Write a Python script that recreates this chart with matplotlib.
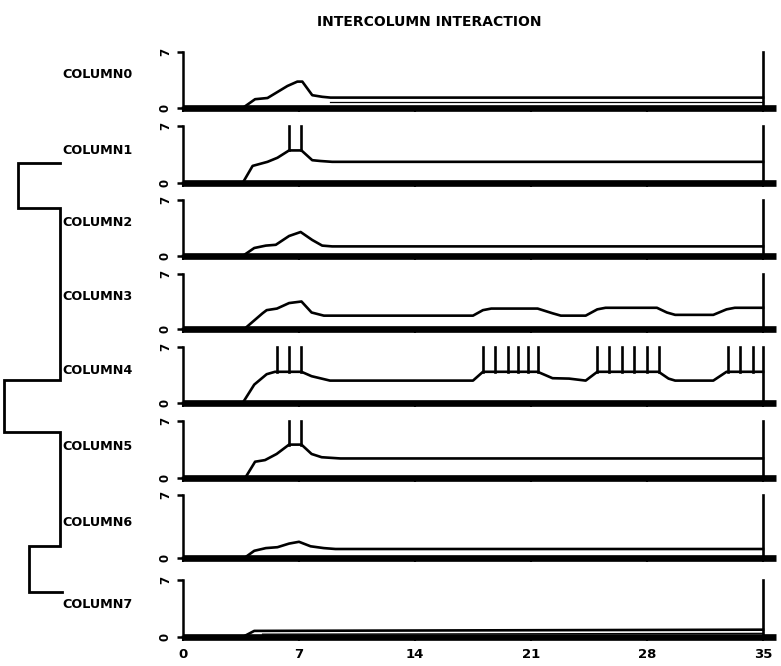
import matplotlib
matplotlib.use("Agg")
import matplotlib.pyplot as plt
import numpy as np

# ---------------- data ----------------
labels = ["COLUMN0", "COLUMN1", "COLUMN2", "COLUMN3",
          "COLUMN4", "COLUMN5", "COLUMN6", "COLUMN7"]
x_ticks = [0, 7, 14, 21, 28, 35]
x_ticklabels = ["0", "7", "14", "21", "28", "35"]
y_ticks = [0, 7]

col0_x = [0, 3.6, 4.35, 5.1, 6.3, 6.9, 7.2, 7.8, 8.4, 8.9, 35]
col0_y = [0, 0, 1.1, 1.25, 2.75, 3.3, 3.3, 1.6, 1.4, 1.3, 1.3]
col1_x = [0, 3.6, 4.2, 5.1, 5.7, 6.4, 7.15, 7.8, 8.3, 9.0, 35]
col1_y = [0, 0, 2.1, 2.6, 3.1, 4.0, 4.0, 2.8, 2.7, 2.6, 2.6]
col2_x = [0, 3.6, 4.3, 5.0, 5.6, 6.4, 7.1, 7.8, 8.4, 9.0, 35]
col2_y = [0, 0, 1.0, 1.3, 1.4, 2.5, 3.0, 2.0, 1.3, 1.2, 1.2]
col3_x = [0, 3.7, 4.8, 5.05, 5.67, 6.4, 7.15, 7.76, 8.5, 17.5, 18.1, 18.6,
          21.4, 22.3, 22.8, 24.3, 25.0, 25.5, 28.6, 29.2, 29.7, 32.0, 32.8,
          33.3, 35]
col3_y = [0, 0, 2.0, 2.4, 2.6, 3.3, 3.5, 2.1, 1.7, 1.7, 2.4, 2.6,
          2.6, 2.0, 1.7, 1.7, 2.5, 2.7, 2.7, 2.1, 1.8, 1.8, 2.5,
          2.7, 2.7]
col4_x = [0, 3.6, 4.3, 5.05, 5.55, 7.15, 7.76, 8.87, 17.5, 18.1, 21.4, 22.3,
          23.3, 24.3, 25.0, 28.7, 29.3, 29.7, 32.0, 32.8, 35]
col4_y = [0, 0, 2.3, 3.6, 3.9, 3.9, 3.35, 2.8, 2.8, 3.9, 3.9, 3.1,
          3.05, 2.8, 3.9, 3.9, 3.05, 2.8, 2.8, 3.9, 3.9]
col5_x = [0, 3.75, 4.35, 4.95, 5.65, 6.4, 7.15, 7.76, 8.37, 9.5, 35]
col5_y = [0, 0, 2.0, 2.2, 2.95, 4.1, 4.1, 2.95, 2.55, 2.4, 2.4]
col6_x = [0, 3.7, 4.3, 5.0, 5.7, 6.4, 7.0, 7.7, 8.5, 9.2, 35]
col6_y = [0, 0, 0.8, 1.1, 1.2, 1.6, 1.8, 1.3, 1.1, 1.0, 1.0]
col7_x = [0, 3.6, 4.3, 35]
col7_y = [0, 0, 0.75, 0.9]

second0_x = [8.9, 35]
second0_y = [0.7, 0.7]
second7_x = [4.8, 35]
second7_y = [0.35, 0.45]

spikes1 = [6.4, 7.15]
spikes4 = [5.67, 6.4, 7.15, 18.1, 18.85, 19.6, 20.2, 20.8, 21.4,
           25.0, 25.7, 26.5, 27.2, 27.97, 28.7, 32.9, 33.6, 34.4]
spikes5 = [6.4, 7.15]
end_x = 35

traces = [(col0_x, col0_y), (col1_x, col1_y), (col2_x, col2_y),
          (col3_x, col3_y), (col4_x, col4_y), (col5_x, col5_y),
          (col6_x, col6_y), (col7_x, col7_y)]
spikes = [[], spikes1, [], [], spikes4, spikes5, [], []]
seconds = {0: (second0_x, second0_y), 7: (second7_x, second7_y)}

# ---------------- layout (pixels) ----------------
W, H = 781, 666
panel_top = [52, 126, 200, 274, 347, 421, 495, 580]
panel_base = [108, 183, 256, 329, 403, 478, 558, 637]
x_left, x_right = 183, 763
label_y = [75, 150, 222, 296, 370, 446, 522, 604]

fig = plt.figure(figsize=(W / 100, H / 100), dpi=100)
fig.patch.set_facecolor("white")
FONT = dict(family="DejaVu Sans", fontweight="bold")

for i in range(8):
    t, b = panel_top[i], panel_base[i]
    ax = fig.add_axes([x_left / W, (H - b) / H, (x_right - x_left) / W, (b - t) / H])
    ax.set_xlim(0, 35)
    ax.set_ylim(0, 7)
    ax.patch.set_alpha(0)
    for s in ("top", "right"):
        ax.spines[s].set_visible(False)
    ax.spines["left"].set_linewidth(1.8)
    ax.spines["bottom"].set_visible(False)
    # thick baseline
    ax.plot([0, 35.8], [0, 0], color="black", lw=4.8, solid_capstyle="butt", clip_on=False)
    xs, ys = traces[i]
    ax.plot(xs, ys, color="black", lw=1.9, clip_on=False, solid_joinstyle="round")
    if i in seconds:
        sx, sy = seconds[i]
        ax.plot(sx, sy, color="black", lw=0.9, clip_on=False)
    for sx in spikes[i]:
        yb = float(np.interp(sx, xs, ys))
        ax.plot([sx, sx], [yb, 7], color="black", lw=1.9, clip_on=False)
    ax.plot([end_x, end_x], [0, 7], color="black", lw=1.9, clip_on=False)

    ax.set_yticks(y_ticks)
    ax.set_yticklabels([str(v) for v in y_ticks], rotation=90, va="center",
                       fontsize=8.5, **FONT)
    ax.tick_params(axis="y", direction="out", length=4, width=1.8, pad=4)
    ax.set_xticks(x_ticks)
    ax.tick_params(axis="x", direction="out", length=3, width=1.5)
    if i == 7:
        ax.set_xticklabels(x_ticklabels, fontsize=9.5, **FONT)
        ax.tick_params(axis="x", pad=5)
    else:
        ax.set_xticklabels([])

# overlay for labels, title and bracket
ov = fig.add_axes([0, 0, 1, 1])
ov.set_xlim(0, W)
ov.set_ylim(H, 0)
ov.axis("off")
ov.patch.set_alpha(0)

ov.text(429, 22, "INTERCOLUMN INTERACTION", ha="center", va="center", fontsize=10, **FONT)
for i, lab in enumerate(labels):
    ov.text(62, label_y[i], lab, ha="left", va="center", fontsize=9.2, **FONT)

bracket_x = [60, 18, 18, 60, 60, 4, 4, 60, 60, 29, 29, 62]
bracket_y = [163, 163, 208, 208, 380, 380, 432, 432, 546, 546, 592, 592]
ov.plot(bracket_x, bracket_y, color="black", lw=2.0, solid_joinstyle="miter")

fig.savefig("out.png", dpi=100, facecolor="white")
